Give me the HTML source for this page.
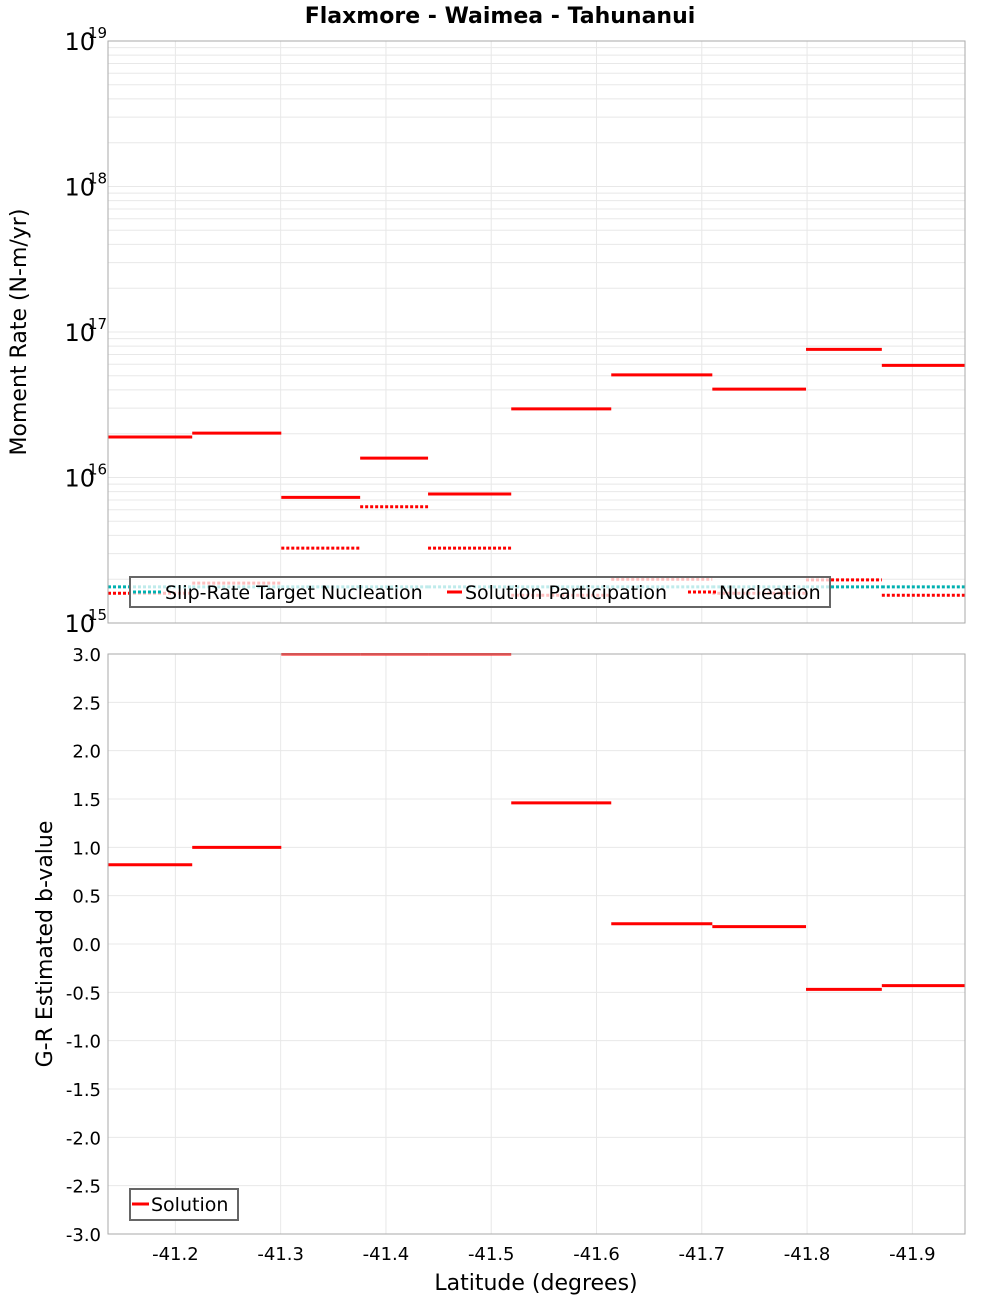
<!DOCTYPE html>
<html><head><meta charset="utf-8"><style>
html,body{margin:0;padding:0;background:#fff;}
svg{display:block;font-family:"DejaVu Sans","Liberation Sans",sans-serif;}
</style></head><body>
<svg id="chart" width="1000" height="1300" viewBox="0 0 1000 1300" xmlns="http://www.w3.org/2000/svg">
<text x="500" y="23" text-anchor="middle" font-size="22" font-weight="bold">Flaxmore - Waimea - Tahunanui</text>
<g id="topPanel"></g>
<g id="botPanel"></g>
</svg>
<script>
const segEdges = [41.136, 41.216, 41.3006, 41.3755, 41.44, 41.519, 41.614, 41.71, 41.799, 41.871, 41.95];
const participation = [1.9e16, 2.02e16, 7.3e15, 1.36e16, 7.7e15, 2.96e16, 5.07e16, 4.05e16, 7.6e16, 5.9e16];
const nucleation = [1.6e15, 1.88e15, 3.27e15, 6.3e15, 3.27e15, 1.55e15, 2.0e15, 1.6e15, 1.98e15, 1.55e15];
const targetNucleation = [1.77e15, 1.77e15, 1.77e15, 1.77e15, 1.77e15, 1.77e15, 1.77e15, 1.77e15, 1.77e15, 1.77e15];
const bValues = [0.82, 1.0, 3.5, 3.5, 3.5, 1.46, 0.21, 0.18, -0.47, -0.43];
const xTicks = [41.2, 41.3, 41.4, 41.5, 41.6, 41.7, 41.8, 41.9];
const logTicks = [15, 16, 17, 18, 19];
const bTicks = [-3, -2.5, -2, -1.5, -1, -0.5, 0, 0.5, 1, 1.5, 2, 2.5, 3];

const NS = "http://www.w3.org/2000/svg";
const L = 108, R = 965, T1 = 41, B1 = 623, T2 = 654, B2 = 1234;
const xs = v => L + (v - segEdges[0]) / (segEdges[10] - segEdges[0]) * (R - L);
const yLog = v => B1 - (Math.log10(v) - 15) / 4 * (B1 - T1);
const yB = v => B2 - (v + 3) / 6 * (B2 - T2);
function mk(parent, tag, attrs) {
  const e = document.createElementNS(NS, tag);
  for (const k in attrs) e.setAttribute(k, attrs[k]);
  parent.appendChild(e); return e;
}
const topG = document.getElementById('topPanel'), botG = document.getElementById('botPanel');

const defs = mk(document.getElementById('chart'), 'defs', {});
const c1 = mk(defs, 'clipPath', {id: 'c1'}); mk(c1, 'rect', {x: L, y: T1, width: R - L, height: B1 - T1});
const c2 = mk(defs, 'clipPath', {id: 'c2'}); mk(c2, 'rect', {x: L, y: T2 - 1, width: R - L, height: B2 - T2 + 1});

xTicks.forEach(t => {
  [[T1, B1], [T2, B2]].forEach(([a, b], i) => {
    const g = mk(i ? botG : topG, 'line', {x1: xs(t), x2: xs(t), y1: a, y2: b, stroke: '#e8e8e8', 'stroke-width': 1});
    
    
  });
});
for (let d = 15; d < 19; d++) for (let m = 1; m <= 9; m++) {
  const y = yLog(m * Math.pow(10, d));
  const g = mk(topG, 'line', {x1: L, x2: R, y1: y, y2: y, stroke: '#e8e8e8', 'stroke-width': 1});
  
  
}
bTicks.forEach(t => {
  const g = mk(botG, 'line', {x1: L, x2: R, y1: yB(t), y2: yB(t), stroke: '#e8e8e8', 'stroke-width': 1});
  
  
});

const sTop = mk(topG, 'g', {'clip-path': 'url(#c1)'});
for (let i = 0; i < 10; i++) {
  const x1 = xs(segEdges[i]), x2 = xs(segEdges[i + 1]);
  const tg = mk(sTop, 'line', {x1: x1, x2: x2, y1: yLog(targetNucleation[i]), y2: yLog(targetNucleation[i]), stroke: '#00b0b0', 'stroke-width': 3, 'stroke-dasharray': '3 2'});
  
  
  const nu = mk(sTop, 'line', {x1: x1, x2: x2, y1: yLog(nucleation[i]), y2: yLog(nucleation[i]), stroke: '#ff0000', 'stroke-width': 3, 'stroke-dasharray': '3 2'});
  
  
  const pa = mk(sTop, 'line', {x1: x1, x2: x2, y1: yLog(participation[i]), y2: yLog(participation[i]), stroke: '#ff0000', 'stroke-width': 3});
  
  
}
const sBot = mk(botG, 'g', {'clip-path': 'url(#c2)'});
for (let i = 0; i < 10; i++) {
  const y = yB(Math.min(bValues[i], 3));
  const b = mk(sBot, 'line', {x1: xs(segEdges[i]), x2: xs(segEdges[i + 1]), y1: y, y2: y, stroke: '#ff0000', 'stroke-width': 3});
  
  
}

[[T1, B1, topG], [T2, B2, botG]].forEach(([a, b, p]) => {
  const f = mk(p, 'rect', {x: L, y: a, width: R - L, height: b - a, fill: 'none', stroke: '#aaaaaa', 'stroke-width': 1});
  
  
});

logTicks.forEach(d => {
  const y = yLog(Math.pow(10, d));
  const t = mk(topG, 'text', {x: 95, y: y + 9, 'text-anchor': 'end', 'font-size': 24});
  t.textContent = '10';
  
  
  const s = mk(topG, 'text', {x: 88, y: y - 3, 'font-size': 15});
  s.textContent = String(d);
  
  
});
bTicks.forEach(v => {
  const t = mk(botG, 'text', {x: 101, y: yB(v) + 7, 'text-anchor': 'end', 'font-size': 18});
  t.textContent = v.toFixed(1);
  
  
});
xTicks.forEach(v => {
  const t = mk(botG, 'text', {x: xs(v), y: 1260, 'text-anchor': 'middle', 'font-size': 18});
  t.textContent = '-' + v.toFixed(1);
  
  
});

let at = mk(topG, 'text', {x: 26, y: 332, 'text-anchor': 'middle', 'font-size': 22, transform: 'rotate(-90 26 332)'});
at.textContent = 'Moment Rate (N-m/yr)';


at = mk(botG, 'text', {x: 52, y: 944, 'text-anchor': 'middle', 'font-size': 22, transform: 'rotate(-90 52 944)'});
at.textContent = 'G-R Estimated b-value';


at = mk(botG, 'text', {x: 536, y: 1290, 'text-anchor': 'middle', 'font-size': 22});
at.textContent = 'Latitude (degrees)';



const lg = mk(topG, 'g', {});


mk(lg, 'rect', {x: 130, y: 577, width: 700, height: 30, fill: 'rgba(255,255,255,0.75)', stroke: '#666', 'stroke-width': 2});
const items = [
  {x: 133, label: 'Slip-Rate Target Nucleation', color: '#00b0b0', dash: '3 2', tx: 165, name: 'legend-target-nucleation'},
  {x: 447, label: 'Solution Participation', color: '#ff0000', dash: '', tx: 465, name: 'legend-participation'},
  {x: 688, label: 'Nucleation', color: '#ff0000', dash: '3 2', tx: 719, name: 'legend-nucleation'}
];
items.forEach(it => {
  const g = mk(lg, 'g', {});
  
  
  const a = {x1: it.x, x2: it.tx - 3, y1: 592, y2: 592, stroke: it.color, 'stroke-width': 3};
  if (it.dash) a['stroke-dasharray'] = it.dash;
  mk(g, 'line', a);
  const t = mk(g, 'text', {x: it.tx, y: 599, 'font-size': 19});
  t.textContent = it.label;
});
const lg2 = mk(botG, 'g', {});


mk(lg2, 'rect', {x: 130, y: 1189, width: 108, height: 31, fill: '#fff', stroke: '#666', 'stroke-width': 2});
mk(lg2, 'line', {x1: 132, x2: 149, y1: 1204, y2: 1204, stroke: '#ff0000', 'stroke-width': 3});
const lt = mk(lg2, 'text', {x: 151, y: 1211, 'font-size': 19});
lt.textContent = 'Solution';
</script>
</body></html>
